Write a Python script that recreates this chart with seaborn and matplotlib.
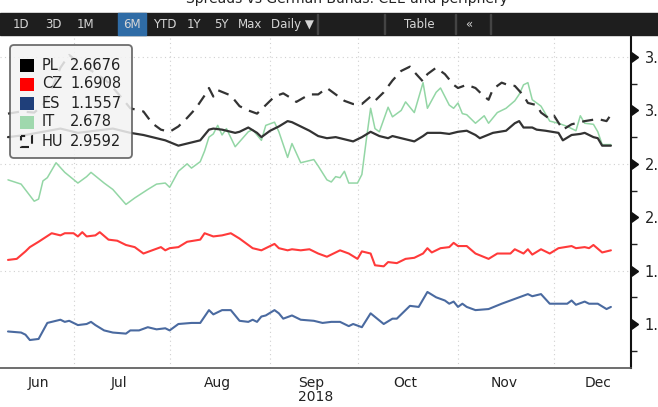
import numpy as np
import pandas as pd
import matplotlib.pyplot as plt
import matplotlib.transforms as mtransforms
from matplotlib.patches import Rectangle, FancyBboxPatch
import seaborn as sns

# business-day axis, Jun 11 to Dec 19 2018 (index = position on the axis)
days = pd.bdate_range("2018-06-11", periods=139)

countries = ["PL", "CZ", "ES", "IT", "HU"]
last_values = ["2.6676", "1.6908", "1.1557", "2.678", "2.9592"]

pl_days = [0, 4, 8, 12, 16, 20, 24, 28, 31, 34, 36, 39, 41, 44, 46, 47, 49, 52, 53, 55, 57, 58,
           60, 62, 64, 65, 67, 69, 71, 73, 75, 77, 79, 81, 83, 85, 87, 88, 90, 93, 95, 96, 99,
           101, 103, 105, 107, 108, 111, 114, 116, 117, 118, 120, 121, 123, 126, 127, 129, 131,
           132, 134, 135, 136, 138]
pl_vals = [2.75, 2.77, 2.80, 2.83, 2.79, 2.81, 2.83, 2.79, 2.77, 2.74, 2.72, 2.67, 2.69, 2.72,
           2.82, 2.83, 2.82, 2.79, 2.80, 2.84, 2.79, 2.75, 2.81, 2.85, 2.90, 2.89, 2.85, 2.81,
           2.76, 2.74, 2.75, 2.73, 2.71, 2.75, 2.80, 2.76, 2.74, 2.76, 2.74, 2.71, 2.76, 2.79,
           2.79, 2.78, 2.80, 2.81, 2.77, 2.74, 2.79, 2.81, 2.88, 2.90, 2.84, 2.84, 2.82, 2.81,
           2.79, 2.72, 2.77, 2.78, 2.79, 2.75, 2.74, 2.67, 2.67]

hu_days = [0, 3, 6, 8, 10, 12, 14, 17, 20, 23, 26, 28, 31, 33, 35, 37, 39, 41, 43, 45, 46, 47,
           48, 51, 53, 55, 57, 59, 61, 63, 65, 66, 69, 71, 73, 75, 77, 79, 81, 83, 84, 86, 88,
           90, 92, 93, 95, 96, 98, 100, 102, 103, 105, 107, 109, 110, 111, 113, 115, 116, 118,
           119, 121, 122, 124, 125, 127, 129, 131, 132, 135, 137, 138]
hu_vals = [2.97, 2.99, 2.98, 3.05, 3.20, 3.40, 3.52, 3.42, 3.35, 3.26, 3.12, 3.02, 2.99, 2.88,
           2.82, 2.80, 2.85, 2.93, 3.02, 3.14, 3.21, 3.13, 3.19, 3.14, 3.04, 3.00, 2.97, 3.05,
           3.13, 3.16, 3.11, 3.08, 3.15, 3.15, 3.21, 3.15, 3.09, 3.06, 3.06, 3.13, 3.09, 3.17,
           3.28, 3.37, 3.41, 3.36, 3.27, 3.34, 3.40, 3.34, 3.24, 3.21, 3.24, 3.21, 3.13, 3.10,
           3.20, 3.26, 3.23, 3.23, 3.14, 3.07, 3.05, 2.98, 2.92, 2.95, 2.82, 2.87, 2.89, 2.90,
           2.92, 2.90, 2.96]

it_days = [0, 3, 6, 7, 8, 9, 11, 13, 16, 18, 19, 22, 24, 27, 29, 32, 34, 36, 37, 39, 41, 42,
           44, 45, 46, 47, 48, 49, 50, 52, 55, 56, 57, 58, 59, 61, 62, 64, 65, 67, 70, 71, 73,
           74, 75, 76, 77, 78, 80, 81, 82, 83, 84, 85, 87, 88, 90, 91, 93, 95, 96, 98, 99, 101,
           102, 103, 104, 105, 107, 109, 110, 112, 114, 116, 117, 118, 119, 120, 121, 122, 124,
           126, 128, 130, 131, 132, 134, 135, 136, 138]
it_vals = [2.35, 2.31, 2.15, 2.17, 2.34, 2.37, 2.51, 2.42, 2.32, 2.38, 2.42, 2.32, 2.26, 2.12,
           2.18, 2.26, 2.31, 2.32, 2.28, 2.43, 2.50, 2.46, 2.52, 2.62, 2.75, 2.78, 2.86, 2.77,
           2.83, 2.66, 2.80, 2.82, 2.77, 2.72, 2.86, 2.89, 2.80, 2.56, 2.69, 2.51, 2.54, 2.48,
           2.35, 2.33, 2.38, 2.37, 2.43, 2.32, 2.32, 2.40, 2.72, 3.02, 2.83, 2.80, 3.03, 2.94,
           3.00, 3.08, 2.98, 3.26, 3.02, 3.17, 3.21, 3.05, 3.02, 3.07, 2.97, 2.96, 2.88, 2.95,
           2.88, 2.98, 3.02, 3.09, 3.15, 3.24, 3.26, 3.10, 3.07, 3.04, 2.90, 2.88, 2.85, 2.81,
           2.95, 2.88, 2.87, 2.80, 2.68, 2.68]

cz_days = [0, 2, 4, 5, 7, 10, 12, 13, 15, 16, 17, 18, 20, 21, 23, 25, 27, 29, 31, 33, 35, 36,
           37, 39, 41, 44, 45, 47, 49, 51, 53, 56, 58, 61, 62, 64, 65, 67, 69, 71, 73, 76, 78,
           80, 81, 83, 84, 86, 87, 89, 91, 93, 95, 96, 97, 99, 101, 102, 103, 105, 107, 110,
           112, 115, 116, 118, 119, 120, 122, 124, 126, 129, 130, 132, 133, 134, 136, 138]
cz_vals = [1.60, 1.61, 1.68, 1.72, 1.77, 1.85, 1.83, 1.85, 1.85, 1.82, 1.86, 1.82, 1.83, 1.86,
           1.79, 1.78, 1.74, 1.72, 1.66, 1.69, 1.72, 1.69, 1.71, 1.72, 1.77, 1.79, 1.85, 1.82,
           1.83, 1.85, 1.80, 1.71, 1.69, 1.75, 1.71, 1.69, 1.70, 1.69, 1.70, 1.66, 1.63, 1.69,
           1.66, 1.61, 1.68, 1.66, 1.55, 1.54, 1.58, 1.57, 1.61, 1.62, 1.66, 1.71, 1.67, 1.71,
           1.72, 1.76, 1.73, 1.73, 1.66, 1.61, 1.66, 1.66, 1.70, 1.66, 1.70, 1.65, 1.70, 1.66,
           1.71, 1.73, 1.71, 1.72, 1.71, 1.74, 1.67, 1.69]

es_days = [0, 3, 4, 5, 7, 9, 10, 12, 13, 14, 16, 18, 19, 20, 22, 24, 27, 28, 30, 32, 34, 36,
           37, 39, 42, 44, 46, 47, 49, 51, 53, 55, 56, 57, 58, 59, 61, 62, 63, 65, 67, 70, 72,
           74, 76, 78, 79, 81, 83, 86, 88, 89, 92, 94, 96, 98, 100, 101, 102, 103, 104, 105,
           107, 110, 113, 115, 119, 120, 122, 124, 128, 129, 130, 132, 133, 135, 137, 138]
es_vals = [0.93, 0.92, 0.90, 0.85, 0.86, 1.01, 1.02, 1.04, 1.02, 1.03, 0.99, 1.00, 1.02, 0.99,
           0.94, 0.92, 0.91, 0.94, 0.94, 0.97, 0.95, 0.96, 0.94, 1.00, 1.01, 1.01, 1.13, 1.09,
           1.13, 1.13, 1.03, 1.02, 1.04, 1.02, 1.07, 1.08, 1.13, 1.10, 1.05, 1.08, 1.04, 1.03,
           1.01, 1.02, 1.02, 0.98, 1.00, 0.97, 1.10, 1.00, 1.05, 1.05, 1.17, 1.16, 1.30, 1.25,
           1.22, 1.19, 1.21, 1.16, 1.19, 1.16, 1.13, 1.14, 1.19, 1.22, 1.28, 1.26, 1.28, 1.19,
           1.19, 1.22, 1.18, 1.21, 1.19, 1.19, 1.14, 1.16]

y_major = [1.0, 1.5, 2.0, 2.5, 3.0, 3.5]
y_minor = [0.75, 1.25, 1.75, 2.25, 2.75, 3.25]

W, H = 658, 407
fig = plt.figure(figsize=(W / 100, H / 100), dpi=100)
sns.set_style("white")
# pixel coordinates with origin top-left, for the screen furniture
pix = mtransforms.Affine2D().scale(1 / 100, -1 / 100).translate(0, H / 100) + fig.dpi_scale_trans

ax = fig.add_axes([0, 1 - 368 / H, 631 / W, (368 - 36) / H])

series = [
    ("IT", it_days, it_vals, "#93d6a5", 1.1, "-"),
    ("HU", hu_days, hu_vals, "#333333", 1.6, (0, (5, 3.5))),
    ("PL", pl_days, pl_vals, "#333333", 1.6, "-"),
    ("CZ", cz_days, cz_vals, "#ff3a3a", 1.5, "-"),
    ("ES", es_days, es_vals, "#4a6aa0", 1.5, "-"),
]
for name, d, v, c, lw, ls in series:
    sns.lineplot(x=d, y=v, color=c, lw=lw, linestyle=ls, ax=ax, legend=False)

x_left, x_right = -1.83, 142.6
ax.set_xlim(x_left, x_right)
ax.set_ylim(0.588, 3.697)

# month boundaries and month-centre labels
month_id = days.to_period("M")
bounds = [i for i in range(1, len(days)) if month_id[i] != month_id[i - 1]]
centres, names = [], []
for m in month_id.unique():
    pos = np.where(month_id == m)[0]
    lo = max(pos[0] - 0.5, x_left)
    hi = pos[-1] + 0.5
    if m.month == 12:
        hi = pos[0] - 0.5 + 21
    centres.append((lo + hi) / 2)
    names.append(m.strftime("%b"))

ax.set_xticks(bounds)
ax.set_xticklabels([])
ax.set_xticks(centres, minor=True)
ax.set_xticklabels(names, minor=True, fontsize=10, color="#222222")
ax.tick_params(axis="x", which="major", length=5, width=1, color="#555555", direction="out")
ax.tick_params(axis="x", which="minor", length=0, pad=6)
fig.text(316, 397, "2018", transform=pix, ha="center", va="center",
         fontsize=10, color="#222222")

ax.yaxis.tick_right()
ax.set_yticks(y_major)
ax.set_yticklabels([f"{v:.2f}" for v in y_major], fontsize=10.5, color="#222222")
ax.set_yticks(y_minor, minor=True)
ax.tick_params(axis="y", which="major", length=0, pad=10)
ax.tick_params(axis="y", which="minor", length=4, width=1, color="#222222", direction="out")
ax.plot([1] * len(y_major), y_major, ls="", marker=9, ms=7, color="#111111",
        transform=ax.get_yaxis_transform(), clip_on=False)

for y in [1.5, 2.5, 3.5]:
    ax.axhline(y, color="#d0d0d0", lw=0.8, ls=(0, (1, 3)), zorder=0)
for b in bounds:
    ax.axvline(b, color="#d0d0d0", lw=0.8, ls=(0, (1, 3)), zorder=0)

ax.set_xlabel("")
ax.set_ylabel("")
for s in ["left", "top"]:
    ax.spines[s].set_visible(False)
ax.spines["right"].set_color("#111111")
ax.spines["right"].set_linewidth(1.5)
ax.spines["bottom"].set_color("#555555")
ax.spines["bottom"].set_linewidth(1.2)

# cut-off title above the toolbar (only its lower part is in the frame)
fig.text(347, 3, "Spreads vs German Bunds: CEE and periphery", transform=pix,
         ha="center", va="baseline", fontsize=10, color="#222222")

# toolbar
fig.patches.append(Rectangle((0, 13), W, 22, transform=pix, color="#1e1e1e", zorder=1))
fig.patches.append(Rectangle((118, 13), 28, 22, transform=pix, color="#2f6ca6", zorder=1))
for sx in [317, 384, 455, 490]:
    fig.patches.append(Rectangle((sx, 14), 1, 20, transform=pix, color="#444444", zorder=1))
buttons = [("1D", 21), ("3D", 53), ("1M", 85), ("6M", 132), ("YTD", 165), ("1Y", 194),
           ("5Y", 221), ("Max", 250), ("Daily \u25bc", 292), ("Table", 419), ("\u00ab", 469)]
for label, bx in buttons:
    fig.text(bx, 24.5, label, transform=pix, ha="center", va="center",
             fontsize=8.5, color="#d6d6d6", zorder=2)

# legend box
fig.patches.append(FancyBboxPatch((10, 45), 122, 113, transform=pix,
                                  boxstyle="round,pad=0,rounding_size=4",
                                  facecolor="#f3f3f3", edgecolor="#555555", lw=1.3,
                                  alpha=0.85, zorder=3))
swatch = {"PL": "#000000", "CZ": "#ff0000", "ES": "#1f3f7a", "IT": "#9fd8ad"}
for k, (name, val) in enumerate(zip(countries, last_values)):
    cy = 65 + 19 * k
    if name in swatch:
        fig.patches.append(Rectangle((20, cy - 6.5), 14, 13, transform=pix,
                                     facecolor=swatch[name], edgecolor="none", zorder=4))
    else:
        fig.patches.append(Rectangle((21, cy - 5.5), 11, 11, transform=pix, facecolor="none",
                                     edgecolor="#222222", lw=1.5, ls=(2, (4, 3)), zorder=4))
    fig.text(42, cy, name, transform=pix, ha="left", va="center", fontsize=10.5,
             color="#222222", zorder=5)
    fig.text(70, cy, val, transform=pix, ha="left", va="center", fontsize=10.5,
             color="#222222", zorder=5)

plt.savefig("out.png", dpi=100)
